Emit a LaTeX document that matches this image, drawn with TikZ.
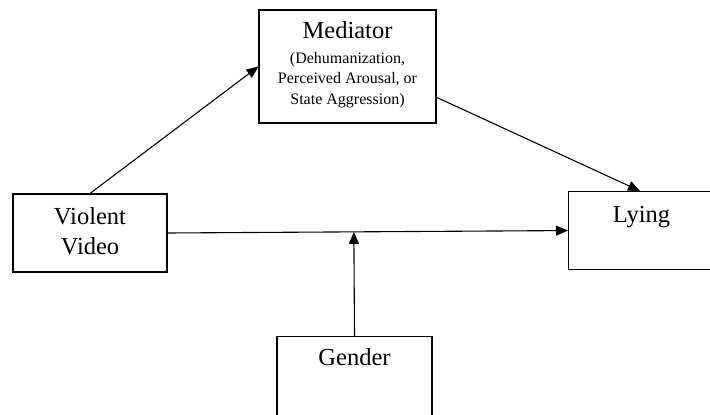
\documentclass[tikz,border=0pt]{standalone}
\usepackage{fontspec}
\setmainfont{Liberation Serif}
\usetikzlibrary{calc, positioning, arrows.meta}
\newcommand\bigtext{\fontsize{24.5}{30}\selectfont}
\newcommand\subtext{\fontsize{16}{20.5}\selectfont}
\tikzset{
    varbox/.style={draw, line width=1.1pt, inner sep=2pt, align=center, font=\bigtext},
    boxlabel/.style={font=\bigtext, anchor=base, inner sep=0pt},
    path arrow/.style={line width=1.1pt, -{Triangle[length=12pt, width=10pt]}}
}

\begin{document}
\begin{tikzpicture}[x=1pt, y=-1pt]

\useasboundingbox (0,0) rectangle (710,415);
\clip (0,0) rectangle (710,415);

% Cajas de las variables
\node[varbox, minimum width=177pt, minimum height=113pt] (mediator) at (347.5,66.5) {};
\node[varbox, minimum width=154pt, minimum height=78pt] (video) at (90,233) {};
\node[varbox, minimum width=146pt, minimum height=78pt, anchor=north west] (lying) at (568,191) {};
\node[varbox, minimum width=155pt, minimum height=84pt, anchor=north] (gender) at (354.5,336) {};

% Textos (líneas de base medidas desde el borde superior)
\node[boxlabel] (medtext) at ($(mediator.north)+(0,29)$) {Mediator};
\node[boxlabel, font=\subtext] (medsubone) at ($(mediator.north)+(0,54)$) {(Dehumanization,};
\node[boxlabel, font=\subtext] (medsubtwo) at ($(mediator.north)+(0,74.5)$) {Perceived Arousal, or};
\node[boxlabel, font=\subtext] (medsubthree) at ($(mediator.north)+(0,95)$) {State Aggression)};
\node[boxlabel] (videoone) at ($(video.north)+(0,31)$) {Violent};
\node[boxlabel] (videotwo) at ($(video.north)+(0,61)$) {Video};
\node[boxlabel] (lyingtext) at ($(lying.north)+(0,31)$) {Lying};
\node[boxlabel] (gendertext) at ($(gender.north)+(0,29)$) {Gender};

% Puntos de llegada y salida de las flechas
\coordinate (medout) at ($(mediator.south east)!0.23!(mediator.north east)$);
\coordinate (lyingin) at ($(lying.north west)+(72,0)$);
\coordinate (moderate) at ($(video.east)!(gender.north)!(lying.west)$);

% Flechas
\draw[path arrow] (video.north) -- (mediator.west);
\draw[path arrow] (medout) -- (lyingin);
\draw[path arrow] (video.east) -- (lying.west);
\draw[path arrow] (gender.north) -- (moderate);

\end{tikzpicture}
\end{document}
